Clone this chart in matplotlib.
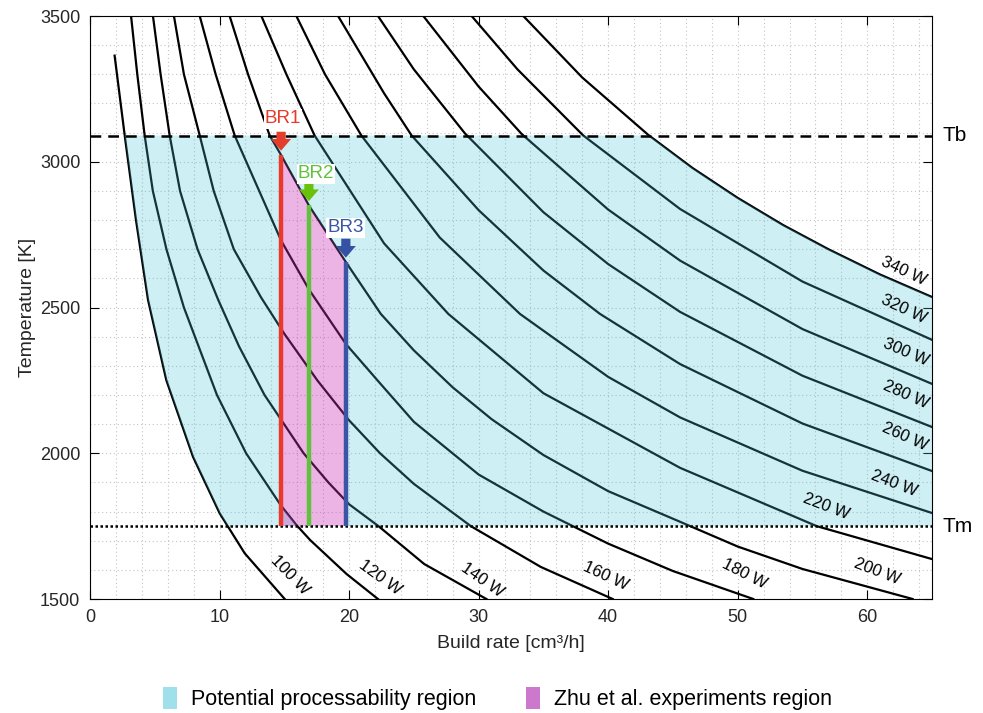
import numpy as np
import matplotlib.pyplot as plt
from matplotlib.path import Path
from matplotlib.patches import PathPatch, Patch

plt.rcParams['font.family'] = ['Liberation Sans', 'DejaVu Sans']

# build rate [cm3/h] vs. peak temperature [K] for each laser power
br_100w = [1.90, 2.68, 3.55, 4.48, 5.89, 7.95, 10.01, 11.94, 15.03]
t_100w = [3364, 3090, 2800, 2526, 2251, 1988, 1794, 1657, 1500]
br_120w = [3.17, 3.65, 4.22, 4.85, 5.9, 7.25, 9.8, 12.05, 14.75, 15.93, 17.0, 19.8, 22.23]
t_120w = [3500, 3300, 3090, 2900, 2700, 2500, 2200, 2000, 1820, 1754, 1702, 1586, 1500]
br_140w = [4.86, 5.45, 6.15, 6.95, 8.3, 9.9, 11.5, 13.47, 16.49, 18.4, 20.0, 22.27, 25.8, 30.6]
t_140w = [3500, 3300, 3090, 2900, 2700, 2526, 2367, 2200, 2000, 1900, 1825, 1750, 1620, 1500]
br_160w = [6.48, 7.25, 8.47, 9.55, 11.1, 13.2, 15.0, 17.55, 20.0, 22.39, 25.0, 29.4, 34.8, 40.35]
t_160w = [3500, 3300, 3090, 2900, 2700, 2535, 2410, 2250, 2113, 2000, 1895, 1750, 1610, 1500]
br_180w = [8.47, 9.7, 11.17, 14.75, 16.9, 19.75, 22.39, 25.0, 30.0, 35.0, 40.0, 45.0, 51.2]
t_180w = [3500, 3300, 3090, 2730, 2562, 2375, 2240, 2108, 1927, 1800, 1690, 1596, 1500]
br_200w = [10.78, 12.2, 13.87, 14.75, 16.9, 19.75, 22.45, 25.0, 28.0, 31.0, 35.0, 40.0,
           45.55, 50.0, 55.0, 63.5]
t_200w = [3500, 3300, 3090, 3023, 2850, 2656, 2478, 2353, 2226, 2117, 1994, 1870,
          1765, 1680, 1603, 1500]
br_220w = [13.23, 15.16, 17.34, 22.7, 27.66, 35, 45.55, 56.1, 65]
t_220w = [3500, 3300, 3090, 2720, 2478, 2206, 1950, 1750, 1637]
br_240w = [15.93, 18.14, 20.95, 27, 33.19, 40, 45.55, 55, 65]
t_240w = [3500, 3300, 3090, 2740, 2478, 2262, 2123, 1940, 1795]
br_260w = [19.15, 22.7, 24.83, 30, 35, 39.37, 45.55, 55, 65]
t_260w = [3500, 3235, 3090, 2834, 2627, 2478, 2306, 2102, 1939]
br_280w = [22.23, 25, 28.95, 35, 40, 45.55, 55, 65]
t_280w = [3500, 3317, 3097, 2827, 2649, 2485, 2266, 2090]
br_300w = [25.73, 30, 33.33, 40, 45.55, 55, 65]
t_300w = [3500, 3258, 3095, 2836, 2661, 2426, 2238]
br_320w = [29.46, 33, 38.08, 45.55, 55, 65]
t_320w = [3500, 3317, 3090, 2838, 2589, 2389]
br_340w = [33.45, 38, 43.1, 46.5, 50, 53.5, 57, 61, 65]
t_340w = [3500, 3289, 3092, 2979, 2876, 2783, 2700, 2613, 2536]

powers = [100, 120, 140, 160, 180, 200, 220, 240, 260, 280, 300, 320, 340]
all_br = [br_100w, br_120w, br_140w, br_160w, br_180w, br_200w, br_220w,
          br_240w, br_260w, br_280w, br_300w, br_320w, br_340w]
all_t = [t_100w, t_120w, t_140w, t_160w, t_180w, t_200w, t_220w,
         t_240w, t_260w, t_280w, t_300w, t_320w, t_340w]

T_BOIL = 3090
T_MELT = 1750
exp_rates = [14.75, 16.9, 19.75]
exp_names = ['BR1', 'BR2', 'BR3']

# label placement (x, y, rotation) for each power curve
label_pos = [(15.4, 1582, -46), (22.4, 1572, -36), (30.3, 1565, -35),
             (39.8, 1579, -25), (50.5, 1586, -27), (60.8, 1593, -21),
             (56.8, 1816, -21), (62.1, 1898, -21), (62.9, 2056, -24),
             (63.0, 2200, -24), (63.0, 2347, -23), (62.8, 2495, -25),
             (62.8, 2625, -25)]


def br_at(br, t, level):
    return float(np.interp(level, t[::-1], br[::-1]))


def t_at(br, t, x):
    return float(np.interp(x, br, t))


fig = plt.figure(figsize=(9.83, 7.13), dpi=100)
ax = fig.add_axes([90 / 983, 114 / 713, 842 / 983, 583 / 713])

for br, t in zip(all_br, all_t):
    ax.plot(br, t, color='black', lw=1.6, zorder=2)

for p, (lx, ly, rot) in zip(powers, label_pos):
    ax.text(lx, ly, f'{p} W', fontsize=12, rotation=rot, ha='center',
            va='center', rotation_mode='anchor', zorder=8, clip_on=False)

# processability region: between Tm and Tb, right of 100 W, below 340 W
x_lt = br_at(br_100w, t_100w, T_BOIL)
x_lb = br_at(br_100w, t_100w, T_MELT)
x_rt = br_at(br_340w, t_340w, T_BOIL)
outer = [(x_lt, T_BOIL), (x_rt, T_BOIL)]
outer += [(x, y) for x, y in zip(br_340w, t_340w) if x > x_rt]
outer += [(65, T_MELT), (x_lb, T_MELT)]
outer += [(x, y) for x, y in zip(br_100w[::-1], t_100w[::-1]) if T_MELT < y < T_BOIL]

br1, br2, br3 = exp_rates
top = [(x, y) for x, y in zip(br_200w, t_200w) if br1 < x < br3]
hole = [(br1, t_at(br_120w, t_120w, br1)), (br1, t_at(br_200w, t_200w, br1))]
hole += top
hole += [(br3, t_at(br_200w, t_200w, br3)), (br3, T_MELT),
         (br_at(br_120w, t_120w, T_MELT), T_MELT)]
hole = hole[::-1]

verts = outer + [outer[0]] + hole + [hole[0]]
codes = ([Path.MOVETO] + [Path.LINETO] * (len(outer) - 1) + [Path.CLOSEPOLY]
         + [Path.MOVETO] + [Path.LINETO] * (len(hole) - 1) + [Path.CLOSEPOLY])
ax.add_patch(PathPatch(Path(verts, codes), fc=(77 / 255, 196 / 255, 218 / 255),
                       alpha=0.27, lw=0, zorder=3))

# experiments region
pink = [(br1, T_MELT), (br1, t_at(br_200w, t_200w, br1))] + top
pink += [(br3, t_at(br_200w, t_200w, br3)), (br3, T_MELT)]
px, py = zip(*pink)
ax.fill(px, py, color=(203 / 255, 47 / 255, 181 / 255), alpha=0.36, lw=0, zorder=3.1)

ax.axhline(T_BOIL, color='black', lw=1.8, ls=(0, (4.3, 2.8)), zorder=4)
ax.axhline(T_MELT, color='black', lw=1.8, ls=(0, (1, 1)), zorder=4)
ax.text(65.8, T_BOIL, 'Tb', fontsize=15, ha='left', va='center', clip_on=False)
ax.text(65.8, T_MELT, 'Tm', fontsize=15, ha='left', va='center', clip_on=False)

line_cols = ['#e8392a', '#5ec23c', '#3a55a5']
arrow_cols = ['#e43d2b', '#6ac10b', '#3551a4']
name_pos = [(14.9, 3147), (17.45, 2958), (19.7, 2773)]
for br, name, lc, ac, (nx, ny) in zip(exp_rates, exp_names, line_cols, arrow_cols, name_pos):
    ttop = t_at(br_200w, t_200w, br)
    ax.plot([br, br], [T_MELT, ttop], color=lc, lw=3.2, solid_capstyle='butt', zorder=5)
    ax.annotate('', xy=(br, ttop + 15), xytext=(br, ttop + 80),
                arrowprops=dict(arrowstyle='simple,head_length=0.7,head_width=1.2,tail_width=0.55',
                                color=ac, lw=0, shrinkA=0, shrinkB=0, mutation_scale=12),
                zorder=6)
    ax.text(nx, ny, name, color=lc, fontsize=13.5, ha='center', va='center',
            bbox=dict(fc='white', ec='none', pad=0.8), zorder=7)

ax.set_xlim(0, 65)
ax.set_ylim(1500, 3500)
ax.set_xticks(range(0, 61, 10))
ax.set_yticks(range(1500, 3501, 500))
ax.set_xticks(np.arange(0, 65, 2), minor=True)
ax.set_yticks(np.arange(1500, 3501, 100), minor=True)
ax.tick_params(which='major', direction='in', length=6.5, width=0.8, top=True,
               right=True, labelsize=13, labelcolor='#262626', pad=7)
ax.tick_params(which='minor', length=0)
ax.grid(which='both', ls=(0, (1, 2.5)), color='#c4c4c4', lw=0.8)
ax.set_axisbelow(True)
for s in ax.spines.values():
    s.set_linewidth(0.8)

ax.set_xlabel('Build rate [cm³/h]', fontsize=14, color='#262626', labelpad=7)
ax.set_ylabel('Temperature [K]', fontsize=14, color='#262626', labelpad=3)

handles = [Patch(fc='#a0e0ea', ec='none', label='Potential processability region'),
           Patch(fc='#cc78cc', ec='none', label='Zhu et al. experiments region')]
fig.legend(handles=handles, loc='center', bbox_to_anchor=(0.506, 0.02), ncol=2,
           frameon=False, fontsize=15.5, handlelength=0.65, handleheight=1.15,
           handletextpad=0.65, columnspacing=2.3)

fig.savefig('out.png', dpi=100)
